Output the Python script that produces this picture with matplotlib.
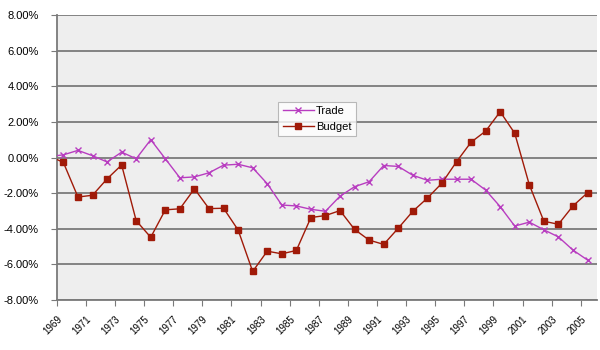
import matplotlib

matplotlib.use('Agg')
import matplotlib.pyplot as plt
from matplotlib.ticker import FuncFormatter
import numpy as np

plt.rcParams['font.family'] = ['Liberation Sans', 'DejaVu Sans']

# data (percent of GDP)
years = list(range(1969, 2007))
trade = [0.05, 0.15, 0.4, 0.1, -0.25, 0.3, -0.07, 1.0, -0.07, -1.14,
         -1.09, -0.86, -0.43, -0.38, -0.58, -1.47, -2.67, -2.72, -2.91, -3.02,
         -2.17, -1.64, -1.36, -0.45, -0.5, -1.0, -1.28, -1.22, -1.22, -1.22,
         -1.83, -2.76, -3.85, -3.63, -4.06, -4.46, -5.2, -5.76]
budget = [0.1, -0.28, -2.22, -2.12, -1.2, -0.42, -3.55, -4.48, -2.94, -2.88,
          -1.76, -2.87, -2.85, -4.07, -6.4, -5.26, -5.41, -5.22, -3.37, -3.26,
          -2.98, -4.04, -4.64, -4.88, -3.97, -3.02, -2.28, -1.44, -0.24, 0.86,
          1.48, 2.57, 1.36, -1.53, -3.58, -3.75, -2.72, -1.98]
tick_years = years[::2]  # 1969 .. 2005

fig = plt.figure(figsize=(6, 3.5), dpi=100)
ax = fig.add_axes([0.0945, 0.143, 0.9005, 0.814])
ax.set_facecolor('#EEEEEE')

x = np.arange(len(years))
ax.plot(x, trade, color='#B83DC0', lw=1.0, marker='x', ms=5, mew=1.0,
        label='Trade', zorder=3)
ax.plot(x, budget, color='#A01A08', lw=1.0, marker='s', ms=4.5,
        label='Budget', zorder=3)

ax.set_ylim(-8, 8)
ax.set_yticks(np.arange(-8, 9, 2))
ax.yaxis.set_major_formatter(FuncFormatter(lambda v, p: f'{v:.2f}%'))
ax.yaxis.grid(True, color='#7A7A7A', lw=1.3)
ax.set_axisbelow(True)

# category ticks sit between the points, every second year labelled
ax.set_xlim(0.54, 37.65)
ax.set_xticks(np.arange(len(tick_years)) * 2 + 0.54)
ax.set_xticklabels([str(y) for y in tick_years], rotation=45, ha='right',
                   va='top', rotation_mode='anchor', fontsize=7)
ax.tick_params(axis='x', length=4, color='#7A7A7A', pad=6)
ax.tick_params(axis='y', length=4, color='#7A7A7A', labelsize=8, pad=9)

for s in ['top', 'right']:
    ax.spines[s].set_visible(False)
for s in ['left', 'bottom']:
    ax.spines[s].set_color('#7A7A7A')
    ax.spines[s].set_linewidth(1.3)

leg = ax.legend(loc='upper left', bbox_to_anchor=(0.40, 0.715), fontsize=8,
                frameon=True, fancybox=False, edgecolor='#AAAAAA',
                handlelength=2.8, borderpad=0.4, labelspacing=0.5,
                handletextpad=0.2)
leg.get_frame().set_linewidth(0.8)

fig.savefig('out.png', dpi=100, facecolor='white')
